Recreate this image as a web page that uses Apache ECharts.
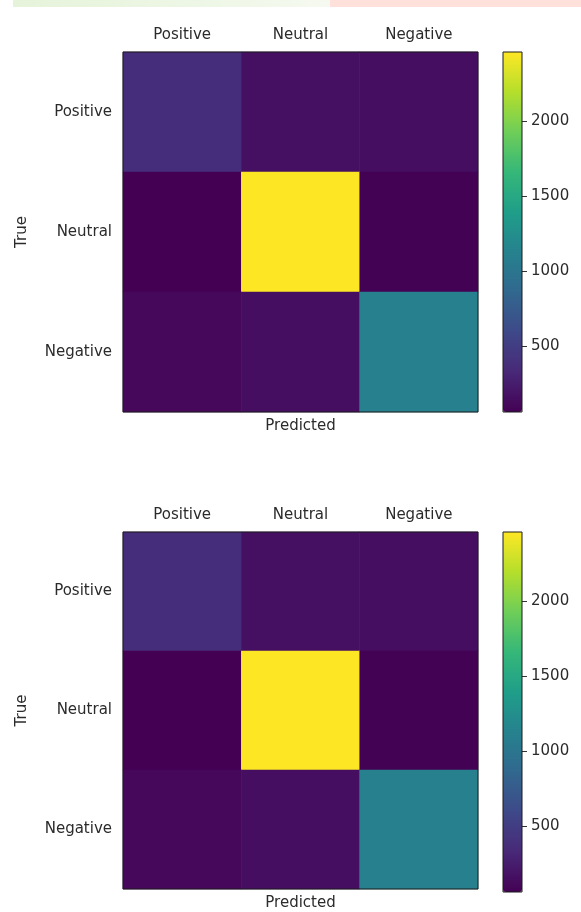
<!DOCTYPE html>
<html>
<head>
<meta charset="utf-8">
<script src="https://cdn.jsdelivr.net/npm/echarts@6/dist/echarts.min.js"></script>
<style>
  html, body { margin: 0; padding: 0; background: #fff; }
  #chart { width: 581px; height: 912px; }
</style>
</head>
<body>
<div id="chart"></div>
<script>
// labels of the confusion matrix
const predLabels = ['Positive', 'Neutral', 'Negative'];
const trueLabels = ['Positive', 'Neutral', 'Negative'];

// counts, rows = true, cols = predicted
const countsTop = [
    [370, 160, 150],
    [60, 2460, 70],
    [110, 150, 1110]
];
const countsBottom = [
    [370, 160, 150],
    [60, 2460, 70],
    [110, 150, 1110]
];

// colour bar range and ticks
const barMin = 60;
const barMax = 2460;
const barTicks = [500, 1000, 1500, 2000];

const viridis = ['#440154', '#482878', '#3e4989', '#31688e', '#26828e',
    '#1f9e89', '#35b779', '#6ece58', '#b5de2b', '#fde725'];

const font = 'DejaVu Sans';
const textColor = '#2b2b2b';

function toCells(m) {
    const out = [];
    m.forEach((row, r) => row.forEach((v, c) => out.push([c, r, v])));
    return out;
}

const panels = [countsTop, countsBottom];
const grids = [], xAxes = [], yAxes = [], series = [], visualMaps = [];

panels.forEach((m, i) => {
    const top = 52 + 480 * i;
    const g = grids.length;
    // matrix grid
    grids.push({left: 123, top: top, width: 355, height: 360, show: true,
        backgroundColor: 'transparent', borderColor: '#1a1a1a', borderWidth: 1, z: 10});
    // colour bar grid
    grids.push({left: 503, top: top, width: 19, height: 360, show: true,
        backgroundColor: 'transparent', borderColor: '#1a1a1a', borderWidth: 1, z: 10});

    const xTop = xAxes.length;
    xAxes.push({
        gridIndex: g, type: 'category', data: predLabels, position: 'top',
        axisLine: {show: false},
        axisTick: {alignWithLabel: true, length: 5, lineStyle: {color: '#333'}},
        axisLabel: {fontFamily: font, fontSize: 15, color: textColor, margin: 9},
        splitLine: {show: false}
    });
    xAxes.push({
        gridIndex: g, type: 'category', data: predLabels, position: 'bottom',
        axisLine: {show: false},
        axisTick: {alignWithLabel: true, length: 5, lineStyle: {color: '#333'}},
        axisLabel: {show: false},
        name: 'Predicted', nameLocation: 'middle', nameGap: 7,
        nameTextStyle: {fontFamily: font, fontSize: 15, color: textColor, verticalAlign: 'top'}
    });
    xAxes.push({gridIndex: g + 1, type: 'category', data: [''], show: false});

    const yMain = yAxes.length;
    yAxes.push({
        gridIndex: g, type: 'category', data: trueLabels, inverse: true,
        axisLine: {show: false},
        axisTick: {alignWithLabel: true, length: 5, lineStyle: {color: '#333'}},
        axisLabel: {fontFamily: font, fontSize: 15, color: textColor, margin: 11},
        name: 'True', nameLocation: 'middle', nameRotate: 90, nameGap: 93,
        nameTextStyle: {fontFamily: font, fontSize: 15, color: textColor}
    });
    yAxes.push({
        gridIndex: g + 1, type: 'value', position: 'right', min: barMin, max: barMax,
        axisLine: {show: false},
        axisTick: {show: true, length: 5, customValues: barTicks, lineStyle: {color: '#333'}},
        axisLabel: {fontFamily: font, fontSize: 15, color: textColor, margin: 9,
            customValues: barTicks, formatter: v => String(v)},
        splitLine: {show: false}
    });

    series.push({
        type: 'heatmap', xAxisIndex: xTop, yAxisIndex: yMain,
        data: toCells(m), itemStyle: {borderWidth: 0},
        emphasis: {disabled: true}
    });

    visualMaps.push({
        type: 'continuous', seriesIndex: i, min: barMin, max: barMax,
        calculable: false, orient: 'vertical', left: 503, top: top, padding: 0,
        itemWidth: 19, itemHeight: 360, text: null, showLabel: false,
        inRange: {color: viridis}
    });
});

const chart = echarts.init(document.getElementById('chart'));
chart.setOption({
    backgroundColor: '#fff',
    animation: false,
    grid: grids,
    xAxis: xAxes,
    yAxis: yAxes,
    visualMap: visualMaps,
    series: series,
    graphic: [
        {type: 'rect', shape: {x: 13, y: 0, width: 317, height: 7}, silent: true,
            style: {fill: new echarts.graphic.LinearGradient(0, 0, 1, 0, [
                {offset: 0, color: '#e6f3da'}, {offset: 0.6, color: '#eef7e6'}, {offset: 1, color: '#f6f9f0'}])}},
        {type: 'rect', shape: {x: 330, y: 0, width: 251, height: 7}, silent: true,
            style: {fill: '#fde1da'}}
    ]
});
</script>
</body>
</html>
